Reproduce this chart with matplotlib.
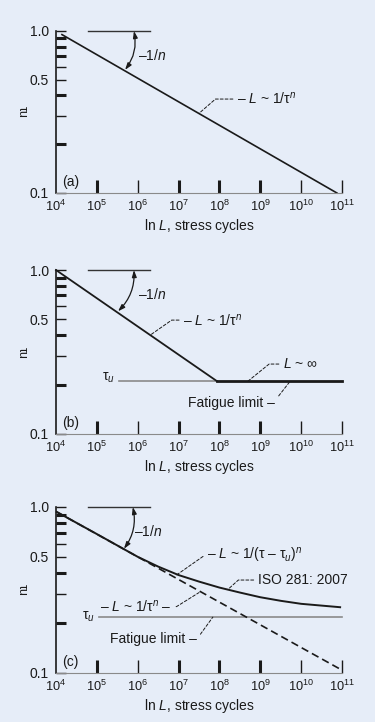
import matplotlib
matplotlib.use('Agg')
import matplotlib.pyplot as plt

plt.rcParams['font.family'] = ['Liberation Sans', 'DejaVu Sans']
plt.rcParams['mathtext.fontset'] = 'custom'
plt.rcParams['mathtext.rm'] = 'Liberation Sans'
plt.rcParams['mathtext.it'] = 'Liberation Sans:italic'

bg = '#e6edf8'
ink = '#1a1a1a'
grey = '#8a8a8a'

# axis ticks
x_ticks = [1e4, 1e5, 1e6, 1e7, 1e8, 1e9, 1e10, 1e11]
x_labels = [r'$10^{%d}$' % k for k in range(4, 12)]
x_tick_w = [0.0, 2.2, 1.0, 2.2, 2.2, 2.2, 1.0, 1.0]
y_ticks = [0.1, 0.2, 0.3, 0.4, 0.5, 0.6, 0.7, 0.8, 0.9, 1.0]
y_labels = ['0.1', '', '', '', '0.5', '', '', '', '', '1.0']
y_tick_w = [1.0, 2.2, 1.0, 2.2, 1.0, 1.0, 2.2, 2.2, 2.2, 1.0]

# reference line for the slope angle
ref_L = [6.1e4, 2.0e6]
ref_tau = [1.0, 1.0]

# (a) L ~ 1/tau^n
a_L = [1.4e4, 7.5e10]
a_tau = [0.95, 0.1]

# (b) with fatigue limit
b_L = [1e4, 8.7e7, 1e11]
b_tau = [1.0, 0.21, 0.21]
b_tau_u = 0.21
b_tau_u_L = [3.5e5, 8.7e7]

# (c) ISO 281:2007
c_iso_L = [1.05e4, 1e5, 1e6, 3.2e6, 1e7, 3.2e7, 1e8, 3.2e8, 1e9, 3.2e9, 1e10, 9e10]
c_iso_tau = [0.933, 0.687, 0.501, 0.437, 0.389, 0.355, 0.327, 0.305, 0.286, 0.272, 0.261, 0.249]
c_dash_L = [1.05e4, 1e11]
c_dash_tau = [0.933, 0.104]
c_tau_u = 0.217
c_tau_u_L = [1.1e5, 1e11]

fig = plt.figure(figsize=(3.75, 7.22), dpi=100, facecolor=bg)
ax_a = fig.add_axes([0.1493, 0.7327, 0.7627, 0.2244])
ax_b = fig.add_axes([0.1493, 0.3989, 0.7627, 0.2271])
ax_c = fig.add_axes([0.1493, 0.0679, 0.7627, 0.2299])

tau = r'$\mathrm{\tau}$'
txt = dict(fontsize=10, color=ink)


def setup(ax, tag):
    ax.set_facecolor('none')
    ax.set_xscale('log')
    ax.set_yscale('log')
    ax.set_xlim(1e4, 1e11)
    ax.set_ylim(0.1, 1.0)
    ax.set_xticks(x_ticks, x_labels)
    ax.set_yticks(y_ticks, y_labels)
    ax.minorticks_off()
    ax.tick_params(axis='x', direction='in', length=9.5, pad=4.5, labelsize=9.2,
                   colors=ink)
    ax.tick_params(axis='y', direction='in', length=7.2, pad=5, labelsize=10,
                   colors=ink)
    for t, w in zip(ax.xaxis.get_major_ticks(), x_tick_w):
        t.tick1line.set_markeredgewidth(w)
    ax.xaxis.get_major_ticks()[-1].tick1line.set_color(grey)
    for t, w in zip(ax.yaxis.get_major_ticks(), y_tick_w):
        t.tick1line.set_markeredgewidth(w)
    for s in ['top', 'right']:
        ax.spines[s].set_visible(False)
    ax.spines['left'].set_linewidth(1.2)
    ax.spines['left'].set_color(ink)
    ax.spines['bottom'].set_linewidth(0.8)
    ax.spines['bottom'].set_color(grey)
    ax.set_xlabel(r'ln $L$, stress cycles', fontsize=10, color=ink, labelpad=2)
    ax.set_ylabel(tau + 'u', fontsize=9, color=ink, rotation=270, labelpad=10)
    ax.text(0.022, 0.065, tag, transform=ax.transAxes, va='center', **txt)
    ax.plot(ref_L, ref_tau, color='#333333', lw=1.0, clip_on=False)


def arc(ax, p0, p1):
    ax.annotate('', xy=p1, xytext=p0,
                arrowprops=dict(arrowstyle='<|-|>,head_length=0.45,head_width=0.15',
                                connectionstyle='arc3,rad=0.22', color=ink,
                                lw=0.9, shrinkA=0, shrinkB=0, mutation_scale=9))


def leader(ax, text, xy, xytext, angle, ha='left'):
    rel = (0, 0.5) if ha == 'left' else (1, 0.5)
    ax.annotate(text, xy=xy, xytext=xytext, ha=ha, va='center', **txt,
                arrowprops=dict(arrowstyle='-', color=ink, lw=0.7,
                                linestyle=(0, (3, 2)), relpos=rel,
                                shrinkA=1, shrinkB=0,
                                connectionstyle='angle,angleA=0,angleB=%g,rad=0' % angle))


# (a)
setup(ax_a, '(a)')
ax_a.plot(a_L, a_tau, color=ink, lw=1.2, clip_on=False)
arc(ax_a, (4.9e5, 0.575), (8.1e5, 1.0))
ax_a.text(1.02e6, 0.71, r'–1/$n$', va='center', **txt)
leader(ax_a, r'– $L$ ~ 1/' + r'$\mathrm{\tau}^{n}$', (3.16e7, 0.31), (2.7e8, 0.38), 41)

# (b)
setup(ax_b, '(b)')
ax_b.plot(b_tau_u_L, [b_tau_u, b_tau_u], color=grey, lw=1.2, clip_on=False)
ax_b.plot(b_L[:2], b_tau[:2], color=ink, lw=1.3, clip_on=False)
ax_b.plot(b_L[1:], b_tau[1:], color=ink, lw=2.0, clip_on=False)
arc(ax_b, (3.3e5, 0.56), (8.1e5, 1.0))
ax_b.text(1.02e6, 0.705, r'–1/$n$', va='center', **txt)
leader(ax_b, r'– $L$ ~ 1/' + r'$\mathrm{\tau}^{n}$', (2.0e6, 0.40), (1.3e7, 0.495), 35)
leader(ax_b, r'$L$ ~ ∞', (5e8, b_tau_u), (3.6e9, 0.267), 39)
leader(ax_b, 'Fatigue limit –', (5.4e9, b_tau_u), (2.3e9, 0.155), 52, ha='right')
ax_b.text(2.8e5, 0.22, r'$\mathrm{\tau}_{u}$', ha='right', va='center', **txt)

# (c)
setup(ax_c, '(c)')
ax_c.plot(c_tau_u_L, [c_tau_u, c_tau_u], color=grey, lw=1.2, clip_on=False)
ax_c.plot(c_dash_L, c_dash_tau, color=ink, lw=1.2, linestyle=(0, (4.5, 2.5)),
          clip_on=False)
ax_c.plot(c_iso_L, c_iso_tau, color=ink, lw=1.4, clip_on=False)
arc(ax_c, (4.6e5, 0.56), (7.6e5, 1.0))
ax_c.text(8.1e5, 0.716, r'–1/$n$', va='center', **txt)
leader(ax_c, r'– $L$ ~ 1/(' + r'$\mathrm{\tau}$ – $\mathrm{\tau}_{u}$)$^{n}$',
       (9e6, 0.39), (5e7, 0.507), 35)
leader(ax_c, 'ISO 281: 2007', (1.6e8, 0.318), (8.7e8, 0.363), 42)
leader(ax_c, r'– $L$ ~ 1/' + r'$\mathrm{\tau}^{n}$ –', (3.16e7, 0.305),
       (6.9e6, 0.251), 32, ha='right')
leader(ax_c, 'Fatigue limit –', (6.9e7, c_tau_u), (2.8e7, 0.16), 54, ha='right')
ax_c.text(9e4, c_tau_u, r'$\mathrm{\tau}_{u}$', ha='right', va='center', **txt)

fig.savefig('out.png', dpi=100, facecolor=bg)
